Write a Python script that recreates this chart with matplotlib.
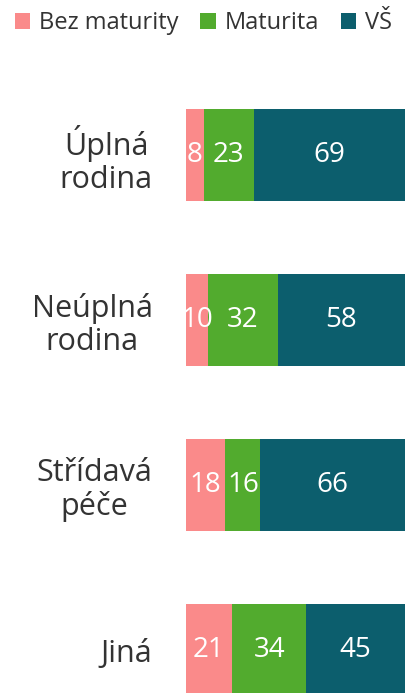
import matplotlib
matplotlib.use("Agg")
import matplotlib.pyplot as plt
from matplotlib.patches import Patch

categories = ["Úplná\nrodina", "Neúplná\nrodina", "Střídavá\npéče", "Jiná"]
series_names = ["Bez maturity", "Maturita", "VŠ"]
bez_maturity = [8, 10, 18, 21]
maturita = [23, 32, 16, 34]
vs = [69, 58, 66, 45]
colors = ["#FA8A8A", "#52AB2E", "#0C5E6D"]

plt.rcParams["font.family"] = ["Open Sans", "DejaVu Sans"]
fig = plt.figure(figsize=(4.07, 6.93), dpi=100)
ax = fig.add_axes([186/407, 0, (405-186)/407, 1 - 72.5/693])

ypos = list(range(len(categories)))
left = [0] * len(categories)
for name, vals, col in zip(series_names, [bez_maturity, maturita, vs], colors):
    ax.barh(ypos, vals, left=left, height=0.557, color=col, label=name)
    for y, l, v in zip(ypos, left, vals):
        ax.text(l + v / 2, y, str(v), ha="center", va="center", color="white", fontsize=20)
    left = [a + b for a, b in zip(left, vals)]

ax.set_xlim(0, 100)
ax.set_ylim(3 + 43/165, -0.5)
ax.set_yticks(ypos)
ax.set_yticklabels(categories, fontsize=22, color="#333333", multialignment="center", linespacing=1.12)
ax.tick_params(axis="y", length=0, pad=24)
ax.set_xticks([])
for s in ax.spines.values():
    s.set_visible(False)

handles = [Patch(facecolor=c, label=n) for n, c in zip(series_names, colors)]
fig.legend(handles=handles, loc="center", bbox_to_anchor=(0.5, 1 - 23/693), ncol=3, frameon=False,
           fontsize=17, handlelength=0.65, handleheight=0.65, handletextpad=0.4, columnspacing=0.9,
           labelcolor="#333333")

fig.savefig("out.png", dpi=100)
